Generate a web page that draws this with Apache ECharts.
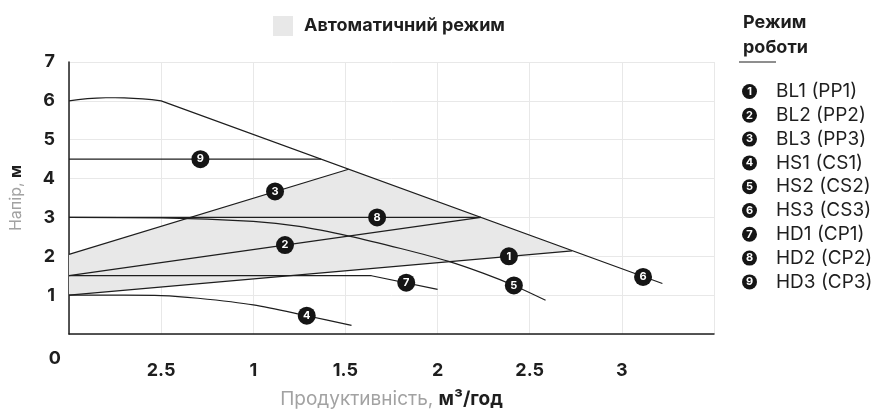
<!DOCTYPE html>
<html>
<head>
<meta charset="utf-8">
<script src="https://cdn.jsdelivr.net/npm/echarts@6/dist/echarts.min.js"></script>
<style>
html,body{margin:0;padding:0;background:#fff;}
#c{width:883px;height:414px;}
</style>
</head>
<body>
<div id="c"></div>
<script>
// ---- data ----
const xTickLabels = ['', '2.5', '1', '1.5', '2', '2.5', '3', ''];
const yTickLabels = ['0', '1', '2', '3', '4', '5', '6', '7'];
const seriesNames = ['BL1 (PP1)', 'BL2 (PP2)', 'BL3 (PP3)', 'HS1 (CS1)', 'HS2 (CS2)', 'HS3 (CS3)', 'HD1 (CP1)', 'HD2 (CP2)', 'HD3 (CP3)'];
const bl1 = [[0, 1.0], [2.73, 2.14]];
const bl2 = [[0, 1.5], [2.235, 3.0]];
const bl3 = [[0, 2.05], [1.517, 4.24]];
const hs1 = [[0, 1.0], [0.3, 1.0], [0.5, 0.99], [0.7, 0.92], [1.0, 0.75], [1.29, 0.47], [1.533, 0.22]];
const hs2 = [[0, 3.0], [0.5, 2.99], [1.0, 2.9], [1.25, 2.77], [1.52, 2.52], [1.8, 2.2], [2.06, 1.87], [2.25, 1.56], [2.414, 1.25], [2.586, 0.87]];
const hs3 = [[0, 6.0], [0.05, 6.03], [0.1, 6.055], [0.15, 6.07], [0.2, 6.08], [0.25, 6.08], [0.3, 6.075], [0.35, 6.065], [0.4, 6.05], [0.45, 6.03], [0.5, 6.0], [3.22, 1.30]];
const hd1 = [[0, 1.5], [1.641, 1.5], [2.0, 1.15]];
const hd2 = [[0, 3.0], [2.235, 3.0]];
const hd3 = [[0, 4.5], [1.368, 4.5]];
const autoZone = [[0, 1.0], [0, 2.05], [1.517, 4.24], [2.73, 2.14]];
const markerPos = [[2.387, 2.0], [1.172, 2.29], [1.118, 3.67], [1.29, 0.47], [2.414, 1.25], [3.115, 1.47], [1.83, 1.32], [1.672, 3.0], [0.713, 4.5]];
const curves = [bl1, bl2, bl3, hs1, hs2, hs3, hd1, hd2, hd3];
const smoothFlags = [false, false, false, true, true, false, false, false, false];

const FONT = 'Inter';
const DARK = '#1e1e1e';
const GREY = '#a2a2a2';

const chart = echarts.init(document.getElementById('c'), null, {renderer: 'canvas'});

const lineSeries = curves.map((d, i) => ({
  name: seriesNames[i],
  type: 'line',
  data: d,
  smooth: smoothFlags[i] ? 0.3 : false,
  symbol: 'none',
  silent: true,
  z: 3,
  itemStyle: {color: DARK},
  lineStyle: {color: DARK, width: 1.2},
  markPoint: {
    symbol: 'circle',
    symbolSize: 18,
    silent: true,
    itemStyle: {color: '#151515'},
    label: {show: true, formatter: String(i + 1), color: '#fff', fontWeight: 'bold', fontSize: 11, fontFamily: FONT},
    data: [{coord: markerPos[i], value: i + 1}]
  }
}));

const option = {
  animation: false,
  textStyle: {fontFamily: FONT},
  grid: {left: 66, right: 169, top: 62, bottom: 71},
  title: {
    text: 'Режим\nроботи',
    left: 738, top: 5,
    textStyle: {fontFamily: FONT, fontSize: 18, fontWeight: 'bold', color: DARK, lineHeight: 25}
  },
  legend: [
    {
      data: ['Автоматичний режим'],
      left: 268, top: 11,
      icon: 'rect', itemWidth: 20, itemHeight: 20, itemGap: 10,
      selectedMode: false,
      textStyle: {fontFamily: FONT, fontSize: 18, fontWeight: 'bold', color: DARK, padding: [0, 0, 0, 6]}
    },
    {
      data: seriesNames,
      orient: 'vertical',
      left: 731, top: 77,
      icon: 'rect', itemWidth: 1, itemHeight: 1, itemGap: 4.8,
      selectedMode: false,
      itemStyle: {opacity: 0},
      lineStyle: {opacity: 0},
      formatter: function (name) {
        const idx = seriesNames.indexOf(name) + 1;
        return '{n|' + idx + '}{t|' + name + '}';
      },
      textStyle: {
        fontFamily: FONT,
        rich: {
          n: {backgroundColor: '#151515', color: '#fff', borderRadius: 7.5, width: 15, height: 15, lineHeight: 15, align: 'center', fontSize: 11, fontWeight: 'bold', fontFamily: FONT},
          t: {fontSize: 19, color: DARK, padding: [0, 0, 0, 19], fontFamily: FONT}
        }
      }
    }
  ],
  graphic: [
    {type: 'line', shape: {x1: 739, y1: 62, x2: 776, y2: 62}, style: {stroke: DARK, lineWidth: 1}}
  ],
  xAxis: {
    type: 'value', min: 0, max: 3.5, interval: 0.5,
    name: '{a|Продуктивність, }{b|м³/год}',
    nameLocation: 'middle', nameGap: 56,
    nameTextStyle: {rich: {
      a: {fontFamily: FONT, fontSize: 19, color: GREY},
      b: {fontFamily: FONT, fontSize: 19, color: DARK, fontWeight: 'bold'}
    }},
    axisLine: {show: true, lineStyle: {color: DARK, width: 1.5}},
    axisTick: {show: false},
    splitLine: {show: true, lineStyle: {color: '#e8e8e8', width: 1}},
    axisLabel: {
      margin: 28, fontFamily: FONT, fontSize: 18, fontWeight: 'bold', color: DARK,
      formatter: v => xTickLabels[Math.round(v / 0.5)]
    }
  },
  yAxis: {
    type: 'value', min: 0, max: 7, interval: 1,
    name: '{a|Напір, }{b|м}',
    nameLocation: 'middle', nameGap: 45, nameRotate: 90,
    nameTextStyle: {rich: {
      a: {fontFamily: FONT, fontSize: 16, color: GREY},
      b: {fontFamily: FONT, fontSize: 16, color: DARK, fontWeight: 'bold'}
    }},
    axisLine: {show: true, lineStyle: {color: DARK, width: 1.5}},
    axisTick: {show: false},
    splitLine: {show: true, lineStyle: {color: '#e8e8e8', width: 1}},
    axisLabel: {
      margin: 8,
      formatter: v => {
        const s = yTickLabels[Math.round(v)];
        return v === 0 ? '{z|' + s + '}' : '{a|' + s + '}';
      },
      rich: {
        a: {fontFamily: FONT, fontSize: 18, fontWeight: 'bold', color: DARK, padding: [0, 6, 0, 0]},
        z: {fontFamily: FONT, fontSize: 18, fontWeight: 'bold', color: DARK, padding: [50, 0, 0, 0]}
      }
    }
  },
  series: [
    {
      name: 'Автоматичний режим',
      type: 'custom',
      data: autoZone,
      z: 1,
      silent: true,
      itemStyle: {color: '#e8e8e8'},
      encode: {x: 0, y: 1},
      renderItem: function (params, api) {
        if (params.dataIndex !== 0) return null;
        const pts = autoZone.map(p => api.coord(p));
        return {type: 'polygon', shape: {points: pts}, style: {fill: '#e8e8e8'}};
      }
    }
  ].concat(lineSeries)
};
chart.setOption(option);
</script>
</body>
</html>
